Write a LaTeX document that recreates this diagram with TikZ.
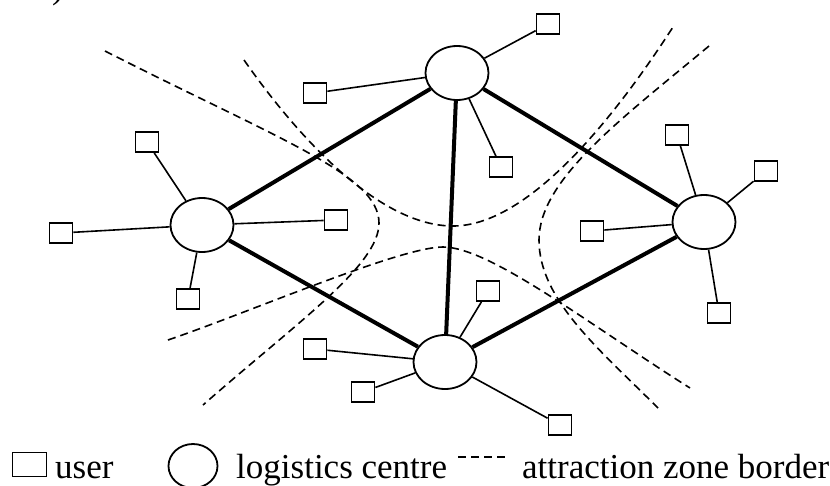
\documentclass[tikz,border=0pt]{standalone}
\usepackage{fontspec}
\setmainfont{Liberation Serif}
\usetikzlibrary{shapes.geometric}
\begin{document}
\begin{tikzpicture}[x=1pt,y=-1pt,
 user/.style={draw, fill=white, line width=1.8pt, rectangle, minimum width=23pt, minimum height=20pt, inner sep=0pt},
 centre/.style={draw, fill=white, line width=1.8pt, ellipse, minimum width=63pt, minimum height=54pt, inner sep=0pt},
 link/.style={line width=1.6pt},
 route/.style={line width=4pt},
 zone/.style={line width=1.6pt, dash pattern=on 8pt off 5pt},
 lab/.style={font=\fontsize{35}{42}\selectfont, inner sep=0pt, anchor=base west}]
\useasboundingbox (0,0) rectangle (830,485);
\clip (0,0) rectangle (830,485);

% fragment of cropped label
\node[lab] (frag) at (52,-2) {)};

% attraction zone borders
\draw[zone] (105,51) .. controls (280,140) and (379,175) .. (379,223)
  .. controls (379,265) and (300,320) .. (203,405);
\draw[zone] (244,60) .. controls (300,140) and (380,226) .. (453,226)
  .. controls (520,226) and (600,140) .. (673,27);
\draw[zone] (709,46) .. controls (620,120) and (539,180) .. (539,240)
  .. controls (539,300) and (600,350) .. (658,408);
\draw[zone] (168,340) .. controls (250,312) and (400,247) .. (443,247)
  .. controls (490,247) and (590,325) .. (690,388);

% logistics centres
\node[centre] (T) at (457,73) {};
\node[centre] (L) at (202,225) {};
\node[centre] (R) at (704,222) {};
\node[centre] (B) at (445,362) {};

% users
\node[user] (t1) at (548,24) {};
\node[user] (t2) at (315,93) {};
\node[user] (t3) at (501,167) {};
\node[user] (l1) at (147,142) {};
\node[user] (l2) at (61,233) {};
\node[user] (l3) at (336,220) {};
\node[user] (l4) at (188,299) {};
\node[user] (r1) at (677,135) {};
\node[user] (r2) at (766,171) {};
\node[user] (r3) at (592,231) {};
\node[user] (r4) at (719,313) {};
\node[user] (b1) at (488,291) {};
\node[user] (b2) at (315,349) {};
\node[user] (b3) at (363,392) {};
\node[user] (b4) at (560,425) {};

% routes between centres
\draw[route] (L) -- (T);
\draw[route] (T) -- (B);
\draw[route] (T) -- (R);
\draw[route] (L) -- (B);
\draw[route] (B) -- (R);

% user links
\foreach \u in {t1,t2,t3} \draw[link] (T) -- (\u);
\foreach \u in {l1,l2,l3,l4} \draw[link] (L) -- (\u);
\foreach \u in {r1,r2,r3,r4} \draw[link] (R) -- (\u);
\foreach \u in {b1,b2,b3,b4} \draw[link] (B) -- (\u);

% legend
\node[user, minimum width=34pt, minimum height=24pt] (lu) at (29.5,464.5) {};
\node[lab] (tu) at (55,478) {user};
\node[centre, minimum width=49pt, minimum height=44pt] (lc) at (193,466) {};
\node[lab] (tc) at (236,478) {logistics centre};
\coordinate (d1) at (458,457);
\coordinate (d2) at (506,457);
\draw[zone] (d1) -- (d2);
\node[lab] (tb) at (522,478) {attraction zone border};
\end{tikzpicture}
\end{document}
